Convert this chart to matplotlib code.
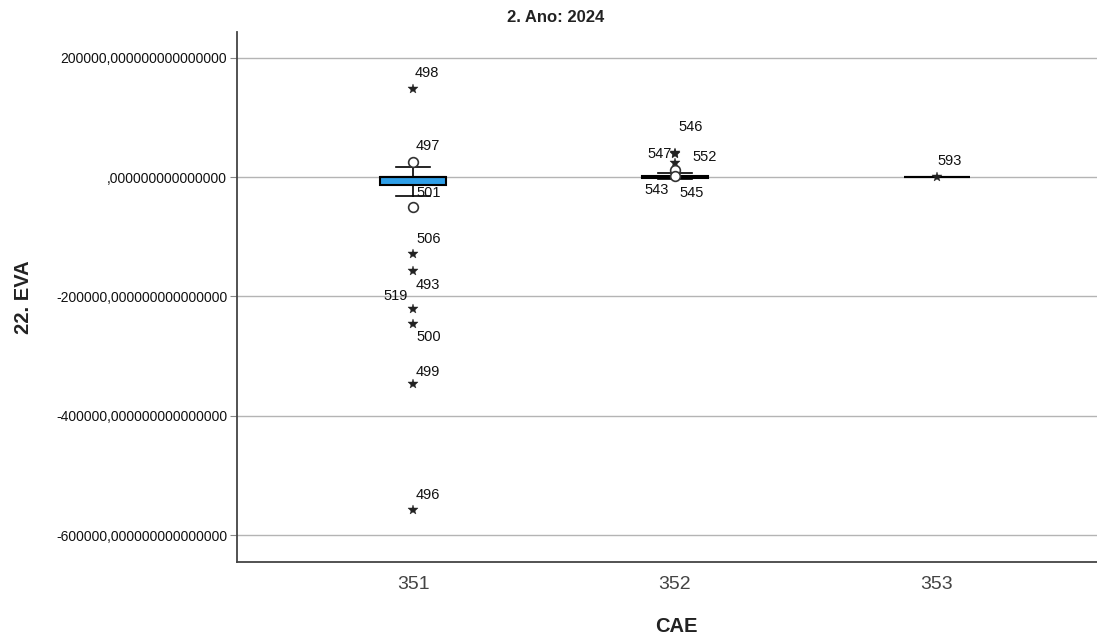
import matplotlib
matplotlib.use("Agg")
import matplotlib.pyplot as plt
from matplotlib.ticker import FuncFormatter

plt.rcParams['font.family'] = ['Liberation Sans', 'DejaVu Sans']

# ---- data ----
categories = ['351', '352', '353']
q1 = [-14200, -1500, -300]
q3 = [-500, 1500, 300]
medians = [-800, 0, 0]
whisker_low = [-31000, -3000, -300]
whisker_high = [17500, 6000, 300]

# outliers: (group index, value, case label, kind)
out_group = [0, 0, 0, 0, 0, 0, 0, 0, 0,
             1, 1, 1, 1, 1,
             2]
out_value = [146500, 25000, -49600, -128700, -157100, -220600, -245600, -345900, -557600,
             40600, 38500, 22900, 11700, 2500,
             -500]
out_label = ['498', '497', '501', '506', '493', '519', '500', '499', '496',
             '546', '547', '552', '543', '545',
             '593']
out_kind = ['star', 'circle', 'circle', 'star', 'star', 'star', 'star', 'star', 'star',
            'star', 'star', 'star', 'circle', 'circle',
            'star']
yticks = [200000, 0, -200000, -400000, -600000]

# label placement (pixel offsets, horizontal alignment) - styling only
label_off = [(2, 16, 'left'), (3, 16, 'left'), (3, 14, 'left'), (3, 15, 'left'),
             (3, -14, 'left'), (-5, 13, 'right'), (3, -13, 'left'), (3, 12, 'left'),
             (3, 15, 'left'),
             (3, 26, 'left'), (-3, 0, 'right'), (17, 6, 'left'), (-6, -20, 'right'),
             (4, -17, 'left'),
             (1, 16, 'left')]

W, H = 1097, 641
fig = plt.figure(figsize=(W / 100, H / 100), dpi=100)
ax = fig.add_axes([237 / W, (H - 562) / H, (W - 237) / W, (562 - 32) / H])

positions = list(range(len(categories)))
stats = []
for i in positions:
    stats.append(dict(med=medians[i], q1=q1[i], q3=q3[i],
                      whislo=whisker_low[i], whishi=whisker_high[i], fliers=[]))

ax.bxp(stats, positions=positions, widths=0.252, patch_artist=True,
       showfliers=False,
       boxprops=dict(facecolor='#2f9fe8', edgecolor='black', linewidth=1.5),
       medianprops=dict(color='black', linewidth=1.5),
       whiskerprops=dict(color='black', linewidth=1.2),
       capprops=dict(color='black', linewidth=1.2),
       capwidths=0.13, zorder=3)

for g, v, lab, kind, (dx, dy, ha) in zip(out_group, out_value, out_label, out_kind, label_off):
    if kind == 'star':
        ax.plot(g, v, marker='*', markersize=7, color='#222222', markeredgewidth=0.3,
                linestyle='none', zorder=4)
    else:
        ax.plot(g, v, marker='o', markersize=7, markerfacecolor='white',
                markeredgecolor='#333333', markeredgewidth=1.2, linestyle='none', zorder=4)
    ax.annotate(lab, xy=(g, v), xytext=(dx, dy), textcoords='offset pixels',
                ha=ha, va='center', fontsize=10.5, color='#111111', zorder=5)

ax.set_xlim(-0.672, 2.611)
ax.set_ylim(-644400, 242700)
ax.set_xticks(positions)
ax.set_xticklabels(categories, fontsize=14, color='#444444')
ax.tick_params(axis='x', length=0, pad=10)
ax.set_yticks(yticks)
ax.yaxis.set_major_formatter(FuncFormatter(
    lambda v, p: ('-' if v < 0 else '') + ('%d' % abs(v) if v != 0 else '') + ',' + '0' * 15))
ax.tick_params(axis='y', labelsize=10, length=5, color='#888888', labelcolor='#111111', pad=2)
ax.yaxis.grid(True, color='#b4b4b4', linewidth=1.0, zorder=0)
ax.set_axisbelow(True)

for s in ['top', 'right']:
    ax.spines[s].set_visible(False)
for s in ['left', 'bottom']:
    ax.spines[s].set_color('#444444')
    ax.spines[s].set_linewidth(1.3)

fig.text(23.5 / W, 1 - 297 / H, '22. EVA', rotation=90, ha='center', va='center',
         fontsize=14.5, fontweight='bold', color='#222222')
fig.text(676 / W, 1 - 627 / H, 'CAE', ha='center', va='center',
         fontsize=14.5, fontweight='bold', color='#222222')
fig.text(556 / W, 1 - 18 / H, '2. Ano: 2024', ha='center', va='center',
         fontsize=12, fontweight='bold', color='#222222')

fig.savefig('out.png', dpi=100)
